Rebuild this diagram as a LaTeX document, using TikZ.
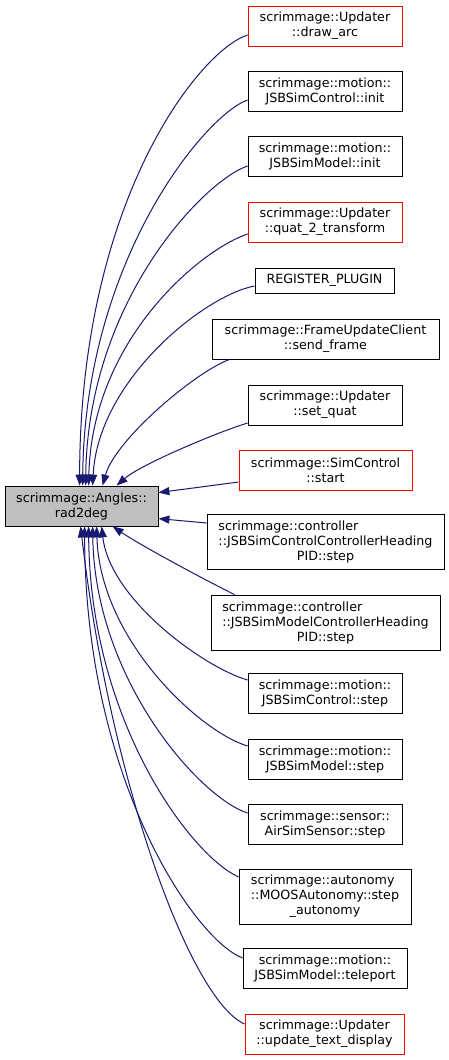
\documentclass[tikz,border=0pt]{standalone}
\usepackage{fontspec}
\setmainfont{DejaVu Sans}
\usetikzlibrary{arrows.meta,calc}
\definecolor{edgeblue}{HTML}{191970}
\definecolor{boxred}{HTML}{FF0000}
\newcommand\myll[2]{\rlap{#1}\phantom{#2}}
\tikzset{
  fnbox/.style={draw=black, fill=white, line width=0.8pt, inner sep=0pt, align=center,
    font=\fontsize{12.7}{15}\selectfont, minimum width=154pt, minimum height=40pt},
  fnred/.style={fnbox, draw=boxred},
  mainbox/.style={fnbox, fill=gray!50, minimum width=153pt},
  edge/.style={draw=edgeblue, line width=1pt, -{Triangle[length=11pt,width=8pt]}}
}
\begin{document}
\begin{tikzpicture}[x=1pt,y=-1pt]
\useasboundingbox (0,0) rectangle (449,1060);
\node[mainbox] (rad) at (81.5,506) {scrimmage::Angles::\\rad2deg};
\node[fnred] (n1) at (325,26) {scrimmage::Updater\\::draw\_arc};
\node[fnbox] (n2) at (325,91) {scrimmage::motion::\\JSBSimControl::init};
\node[fnbox] (n3) at (325,156) {scrimmage::motion::\\JSBSimModel::init};
\node[fnred] (n4) at (325,222) {scrimmage::Updater\\::quat\_2\_transform};
\node[fnbox, minimum width=139pt, minimum height=25pt] (n5) at (324.5,280.5) {REGISTER\_PLUGIN};
\node[fnbox, minimum width=227pt] (n6) at (325.5,339) {scrimmage::FrameUpdateClient\\::send\_frame};
\node[fnbox] (n7) at (325,405) {scrimmage::Updater\\::set\_quat};
\node[fnred, minimum width=173pt] (n8) at (325.5,470) {scrimmage::SimControl\\::start};
\node[fnbox, minimum width=237pt, minimum height=55pt] (n9) at (325.5,541.5)
  {\myll{scrimmage::controller}{::JSBSimControlControllerHeading}\\::JSBSimControlControllerHeading\\PID::step};
\node[fnbox, minimum width=229pt, minimum height=55pt] (n10) at (325.5,622.5)
  {\myll{scrimmage::controller}{::JSBSimModelControllerHeading}\\::JSBSimModelControllerHeading\\PID::step};
\node[fnbox] (n11) at (325,693) {scrimmage::motion::\\JSBSimControl::step};
\node[fnbox] (n12) at (325,759) {scrimmage::motion::\\JSBSimModel::step};
\node[fnbox] (n13) at (325,824) {scrimmage::sensor::\\AirSimSensor::step};
\node[fnbox, minimum width=172pt, minimum height=55pt] (n14) at (325,896.5)
  {\myll{scrimmage::autonomy}{::MOOSAutonomy::step}\\::MOOSAutonomy::step\\\_autonomy};
\node[fnbox, minimum width=164pt] (n15) at (325,968.5) {scrimmage::motion::\\JSBSimModel::teleport};
\node[fnred, minimum width=159pt] (n16) at (324.5,1034) {scrimmage::Updater\\::update\_text\_display};
% edges into the top of rad2deg
\draw[edge] ($(n1.west)+(0,9)$) .. controls (200,50) and (80,200) .. ($(rad.north west)+(75,0)$);
\draw[edge] ($(n2.west)+(0,9)$) .. controls (205,115) and (85,260) .. ($(rad.north west)+(78,0)$);
\draw[edge] ($(n3.west)+(0,10)$) .. controls (205,180) and (88,300) .. ($(rad.north west)+(81,0)$);
\draw[edge] ($(n4.west)+(0,12)$) .. controls (200,250) and (92,340) .. ($(rad.north west)+(84,0)$);
\draw[edge] ($(n5.west)+(0,5.5)$) .. controls (205,295) and (98,380) .. ($(rad.north west)+(88,0)$);
\draw[edge] ($(n6.south west)+(18,0)$) .. controls (195,372) and (115,440) .. ($(rad.north west)+(98,0)$);
\draw[edge] ($(n7.west)+(0,18)$) .. controls (215,433) and (140,465) .. ($(rad.north west)+(112,0)$);
% edges into the right side
\draw[edge] ($(n8.west)+(0,12)$) -- ($(rad.north east)+(0,7)$);
\draw[edge] ($(n9.west)+(0,-18.5)$) -- ($(rad.north east)+(0,33)$);
% edges into the bottom
\draw[edge] ($(n10.north west)+(24,0)$) .. controls (205,580) and (140,545) .. ($(rad.south west)+(108,0)$);
\draw[edge] ($(n11.west)+(0,-13)$) .. controls (205,668) and (110,600) .. ($(rad.south west)+(97,0)$);
\draw[edge] ($(n12.west)+(0,-13)$) .. controls (200,732) and (100,640) .. ($(rad.south west)+(92,0)$);
\draw[edge] ($(n13.west)+(0,-11)$) .. controls (200,798) and (95,680) .. ($(rad.south west)+(88,0)$);
\draw[edge] ($(n14.west)+(0,-19.5)$) .. controls (190,855) and (90,720) .. ($(rad.south west)+(84,0)$);
\draw[edge] ($(n15.west)+(0,-10.5)$) .. controls (195,940) and (85,780) .. ($(rad.south west)+(80,0)$);
\draw[edge] ($(n16.west)+(0,-10)$) .. controls (190,1000) and (110,780) .. ($(rad.south west)+(76,0)$);
\end{tikzpicture}
\end{document}
